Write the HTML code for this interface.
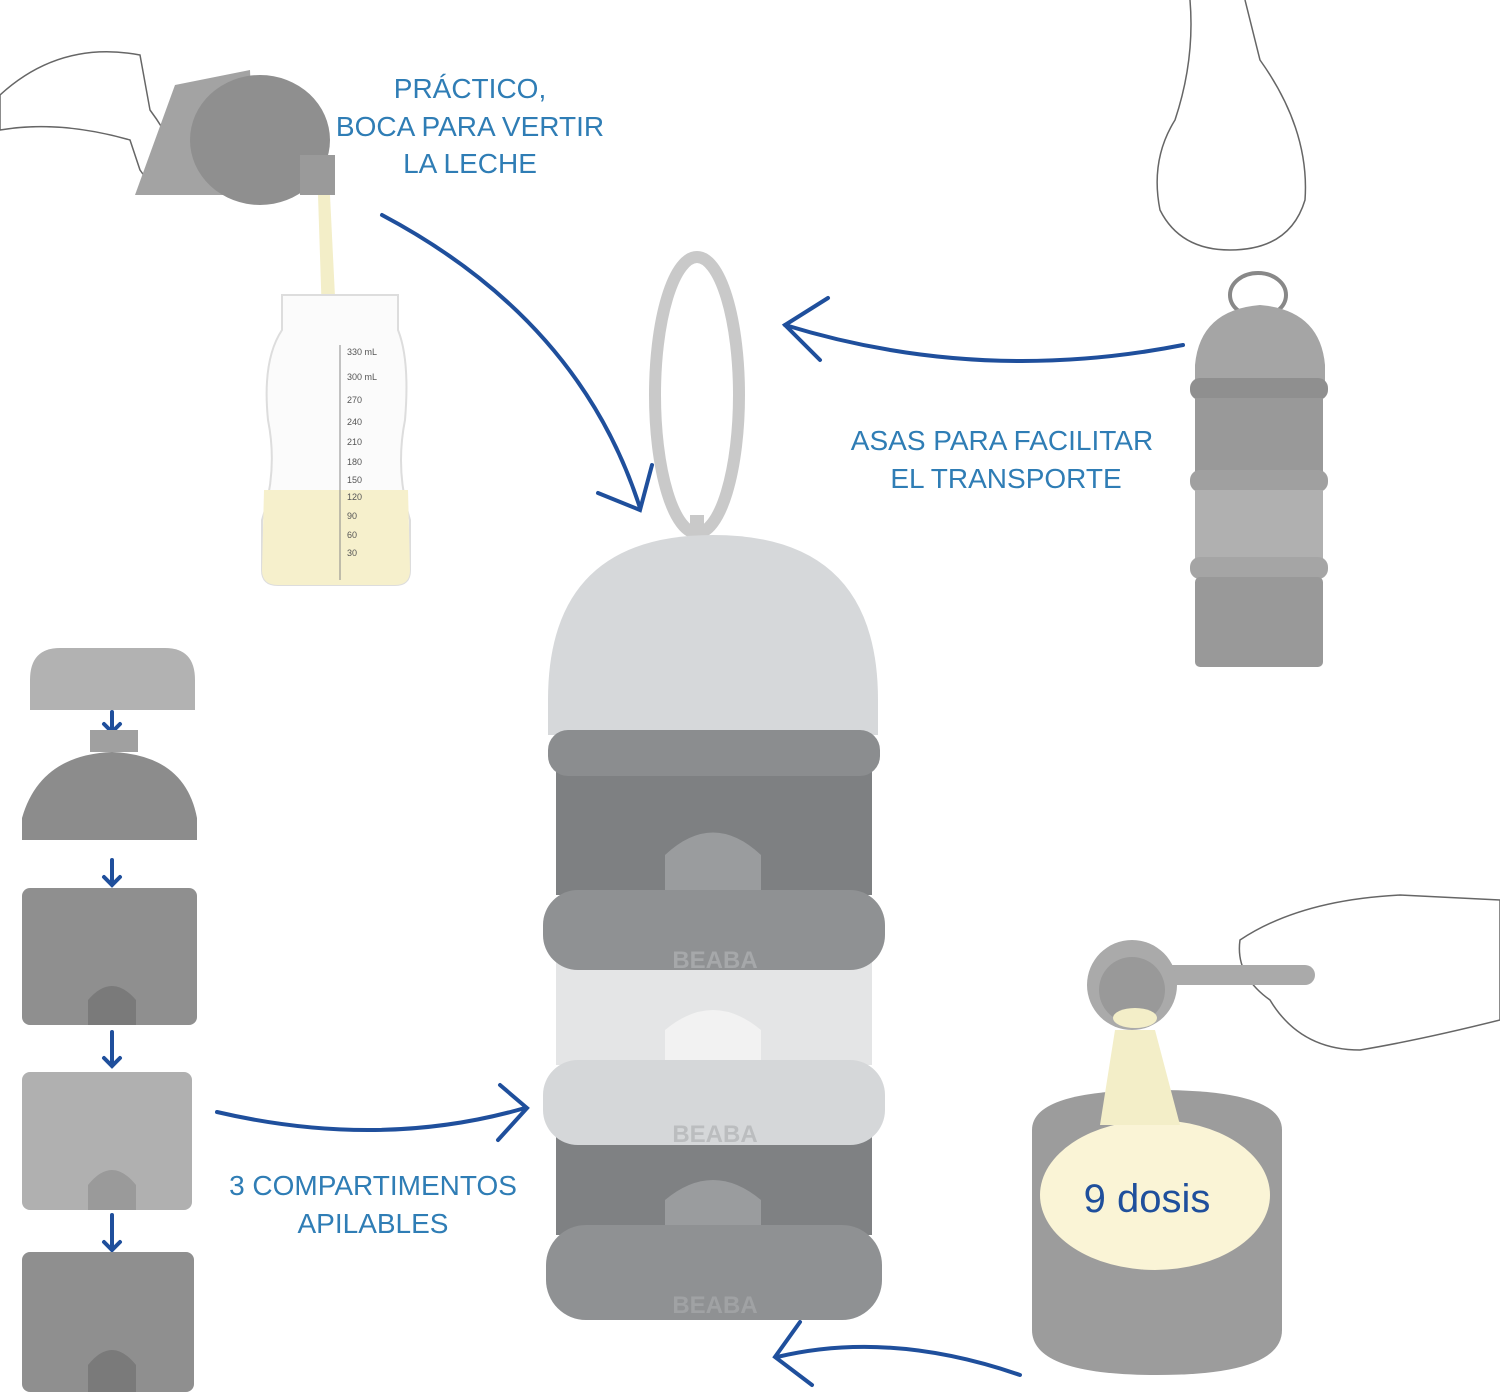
<!DOCTYPE html>
<html><head><meta charset="utf-8"><style>
body{margin:0;background:#fff;}
svg{display:block;}
text{font-family:"Liberation Sans",sans-serif;}
</style></head><body>
<svg width="1500" height="1400" viewBox="0 0 1500 1400" xmlns="http://www.w3.org/2000/svg">
<rect width="1500" height="1400" fill="#fff"/>

<!-- Top-left pouring -->
<path d="M0 95 Q60 40 140 55 L150 110 Q180 150 185 190 Q160 200 140 170 L130 140 Q60 120 0 130Z" fill="none" stroke="#666" stroke-width="1.5"/>
<path d="M175 85 L250 70 L255 195 L135 195 Z" fill="#a3a3a3"/>
<ellipse cx="260" cy="140" rx="70" ry="65" fill="#8f8f8f"/>
<rect x="300" y="155" width="35" height="40" fill="#9a9a9a"/>
<polygon points="318,195 330,195 345,500 328,500" fill="#f3eec8"/>

<!-- Bottle -->
<path d="M282 295 L398 295 L398 330 Q410 360 405 420 Q395 470 410 520 L410 570 Q410 585 395 585 L278 585 Q262 585 262 570 L262 520 Q278 470 268 420 Q262 360 282 330 Z" fill="#fbfbfb" stroke="#ddd" stroke-width="2"/>
<path d="M264 490 L408 490 L410 570 Q410 585 395 585 L278 585 Q262 585 262 570 Z" fill="#f6f0cc"/>
<line x1="340" y1="345" x2="340" y2="580" stroke="#888" stroke-width="1"/>
<g font-size="9" fill="#555">
<text x="347" y="355">330 mL</text><text x="347" y="380">300 mL</text><text x="347" y="403">270</text><text x="347" y="425">240</text><text x="347" y="445">210</text><text x="347" y="465">180</text><text x="347" y="483">150</text><text x="347" y="500">120</text><text x="347" y="519">90</text><text x="347" y="538">60</text><text x="347" y="556">30</text>
</g>

<!-- Text -->
<g fill="#2f7db5" font-size="28" text-anchor="middle">
<text x="470" y="98">PRÁCTICO,</text>
<text x="470" y="136">BOCA PARA VERTIR</text>
<text x="470" y="173">LA LECHE</text>
<text x="1002" y="450">ASAS PARA FACILITAR</text>
<text x="1006" y="488">EL TRANSPORTE</text>
<text x="373" y="1195">3 COMPARTIMENTOS</text>
<text x="373" y="1233">APILABLES</text>
</g>

<!-- Arrows -->
<g fill="none" stroke="#1f4f9c" stroke-width="4" stroke-linecap="round">
<path d="M382 215 Q580 320 640 508"/>
<path d="M598 493 L640 510 L652 465"/>
<path d="M1183 345 Q980 385 785 325"/>
<path d="M828 298 L785 325 L820 360"/>
<path d="M217 1112 Q380 1150 525 1108"/>
<path d="M500 1085 L527 1108 L498 1140"/>
<path d="M1020 1375 Q890 1330 777 1357"/>
<path d="M800 1322 L775 1357 L812 1385"/>
<path d="M112 712 V732 M104 724 L112 732 L120 724"/>
<path d="M112 860 V885 M104 877 L112 885 L120 877"/>
<path d="M112 1032 V1066 M104 1058 L112 1066 L120 1058"/>
<path d="M112 1215 V1250 M104 1242 L112 1250 L120 1242"/>
</g>

<!-- Central container -->
<ellipse cx="697" cy="395" rx="42" ry="138" fill="none" stroke="#c9c9c9" stroke-width="12"/>
<rect x="690" y="515" width="14" height="30" fill="#c9c9c9"/>
<path d="M548 735 L548 700 Q548 535 713 535 Q878 535 878 700 L878 735 Z" fill="#d6d8da"/>
<rect x="556" y="770" width="316" height="125" fill="#7e8082"/>
<path d="M665 895 L665 855 Q713 810 761 855 L761 895Z" fill="#9a9c9e"/>
<rect x="556" y="960" width="316" height="105" fill="#e4e5e6"/>
<path d="M665 1065 L665 1030 Q713 990 761 1030 L761 1065Z" fill="#f2f2f2"/>
<rect x="556" y="1135" width="316" height="100" fill="#7f8183"/>
<path d="M665 1235 L665 1200 Q713 1160 761 1200 L761 1235Z" fill="#9a9c9e"/>
<rect x="548" y="730" width="332" height="46" rx="20" fill="#8b8d8f"/>
<rect x="543" y="890" width="342" height="80" rx="35" fill="#8f9193"/>
<rect x="543" y="1060" width="342" height="85" rx="35" fill="#d5d7d9"/>
<rect x="546" y="1225" width="336" height="95" rx="40" fill="#8f9193"/>
<text x="715" y="968" font-size="24" font-weight="bold" fill="#a6a8aa" text-anchor="middle">BEABA</text>
<text x="715" y="1142" font-size="24" font-weight="bold" fill="#bbbdbf" text-anchor="middle">BEABA</text>
<text x="715" y="1313" font-size="24" font-weight="bold" fill="#a0a2a4" text-anchor="middle">BEABA</text>

<!-- Left stacked pieces -->
<path d="M30 710 L30 680 Q30 648 60 648 L165 648 Q195 648 195 680 L195 710Z" fill="#b2b2b2"/>
<rect x="90" y="730" width="48" height="22" fill="#a0a0a0"/>
<path d="M22 840 L22 818 Q40 755 112 752 Q185 755 197 818 L197 840Z" fill="#8c8c8c"/>
<rect x="22" y="888" width="175" height="137" rx="8" fill="#8f8f8f"/>
<path d="M88 1025 V1000 Q112 972 136 1000 V1025Z" fill="#7a7a7a"/>
<rect x="22" y="1072" width="170" height="138" rx="8" fill="#b0b0b0"/>
<path d="M88 1210 V1185 Q112 1155 136 1185 V1210Z" fill="#9a9a9a"/>
<rect x="22" y="1252" width="172" height="140" rx="8" fill="#8f8f8f"/>
<path d="M88 1392 V1365 Q112 1335 136 1365 V1392Z" fill="#7a7a7a"/>

<!-- Right top hand + container -->
<path d="M1190 0 Q1195 60 1175 120 Q1150 160 1160 210 Q1180 250 1230 250 Q1290 250 1305 200 Q1310 130 1260 60 L1245 0" fill="#fff" stroke="#666" stroke-width="1.5"/>
<ellipse cx="1258" cy="295" rx="28" ry="22" fill="none" stroke="#888" stroke-width="4"/>
<path d="M1195 385 L1195 365 Q1200 310 1260 305 Q1320 310 1325 365 L1325 385Z" fill="#a5a5a5"/>
<rect x="1190" y="378" width="138" height="22" rx="10" fill="#8f8f8f"/>
<rect x="1195" y="398" width="128" height="75" fill="#999"/>
<rect x="1190" y="470" width="138" height="22" rx="10" fill="#a0a0a0"/>
<rect x="1195" y="490" width="128" height="70" fill="#b0b0b0"/>
<rect x="1190" y="557" width="138" height="22" rx="10" fill="#a5a5a5"/>
<rect x="1195" y="577" width="128" height="90" rx="5" fill="#999"/>

<!-- Bottom right scoop + bowl -->
<path d="M1240 940 Q1300 900 1400 895 L1500 900 L1500 1020 Q1420 1040 1360 1050 Q1300 1050 1270 1000 Q1235 975 1240 940Z" fill="#fff" stroke="#666" stroke-width="1.5"/>
<rect x="1150" y="965" width="165" height="20" rx="10" fill="#aaa"/>
<circle cx="1132" cy="985" r="45" fill="#aaa"/>
<circle cx="1132" cy="990" r="33" fill="#999"/>
<ellipse cx="1135" cy="1018" rx="22" ry="10" fill="#f3eec8"/>
<path d="M1032 1130 Q1032 1090 1157 1090 Q1282 1090 1282 1130 L1282 1330 Q1282 1375 1157 1375 Q1032 1375 1032 1330Z" fill="#9c9c9c"/>
<ellipse cx="1155" cy="1195" rx="115" ry="75" fill="#faf4d6"/>
<polygon points="1115,1030 1155,1030 1180,1125 1100,1125" fill="#f3eec8"/>
<text x="1147" y="1212" font-size="40" fill="#1f4f9c" text-anchor="middle">9 dosis</text>
</svg>
</body></html>
